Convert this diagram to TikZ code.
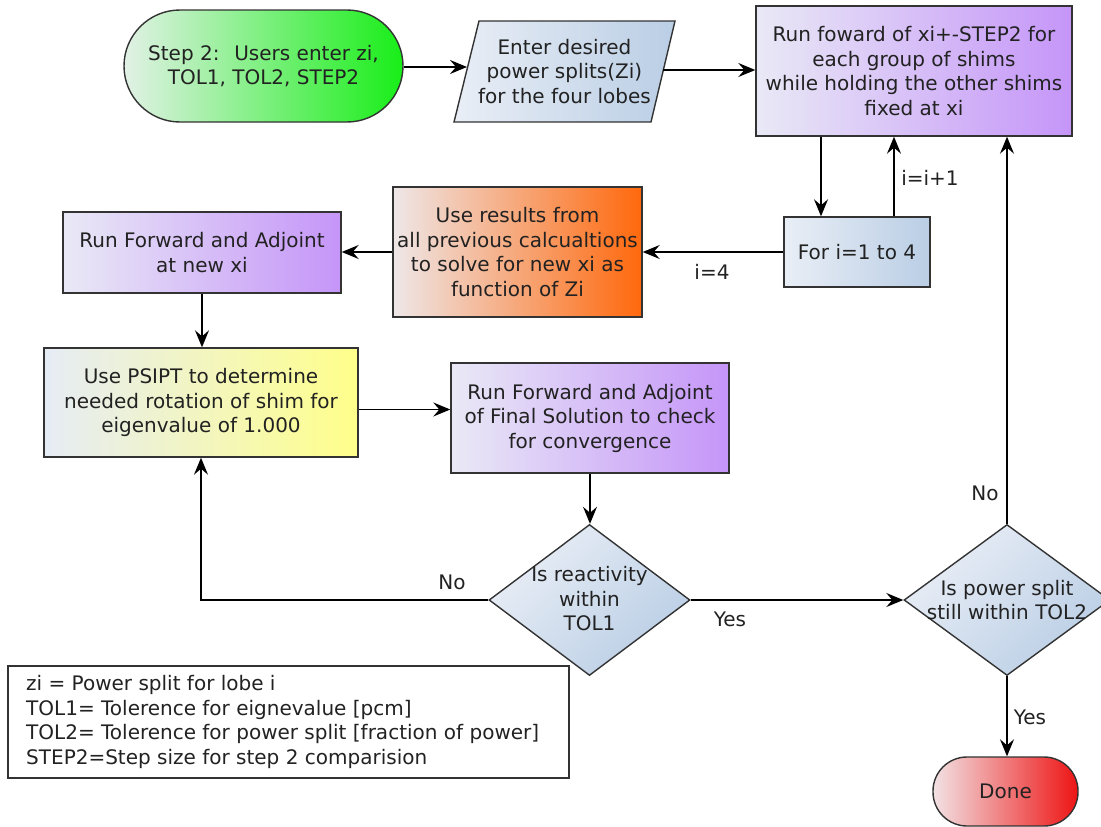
\documentclass[tikz,border=0pt]{standalone}
\usepackage{fontspec}
\setmainfont{DejaVu Sans}
\usetikzlibrary{shapes.geometric,arrows.meta}

\definecolor{inkc}{HTML}{222222}
\definecolor{edgec}{HTML}{333333}
\definecolor{greenL}{HTML}{E2F1E6}
\definecolor{greenR}{HTML}{18EE18}
\definecolor{purpL}{HTML}{E9E9F6}
\definecolor{purpR}{HTML}{C595F8}
\definecolor{blueL}{HTML}{E9EEF6}
\definecolor{blueR}{HTML}{BACEE5}
\definecolor{orangeL}{HTML}{EEE7E8}
\definecolor{orangeR}{HTML}{FF680C}
\definecolor{yellL}{HTML}{E6ECF5}
\definecolor{yellR}{HTML}{FFFF8A}
\definecolor{redL}{HTML}{F2E2E4}
\definecolor{redR}{HTML}{EE1414}

\tikzset{
  box/.style={draw=edgec, line width=1.4pt, align=center, inner sep=0pt, text=inkc},
  purplebox/.style={box, left color=purpL, right color=purpR},
  bluebox/.style={box, left color=blueL, right color=blueR},
  decision/.style={diamond, draw=edgec, line width=1.4pt, inner sep=0pt,
    top color=blueL, bottom color=blueR, shading angle=45},
  plaintext/.style={align=center, text=inkc, inner sep=0pt},
  arr/.style={-{Stealth[length=17pt,width=14pt,inset=6pt]}, line width=1.4pt, draw=black},
  lbl/.style={text=inkc, inner sep=0pt}
}

\begin{document}
\begin{tikzpicture}[x=1pt, y=-1pt, font=\fontsize{20}{24.5}\selectfont]
  \fill[white] (0,0) rectangle (1101,827);
  \useasboundingbox (0,0) rectangle (1101,827);

  % start terminal
  \node[box, left color=greenL, right color=greenR, rounded corners=56pt,
        minimum width=279pt, minimum height=112pt] (start) at (263.5,66)
        {Step 2:~ Users enter zi,\\TOL1, TOL2, STEP2};

  % input parallelogram
  \path[draw=edgec, line width=1.4pt, left color=blueL, right color=blueR]
    (454,122) -- (479,21) -- (675,21) -- (651,122) -- cycle;
  \node[plaintext] (par) at (564.5,71.5) {Enter desired\\power splits(Zi)\\for the four lobes};
  \coordinate (parin) at (467,67);
  \coordinate (parout) at (663,70);

  % process boxes
  \node[purplebox, minimum width=316pt, minimum height=130pt] (top) at (914,71)
    {Run foward of xi+-STEP2 for\\each group of shims\\while holding the other shims\\fixed at xi};
  \node[bluebox, minimum width=146pt, minimum height=70pt] (loop) at (857,252) {For i=1 to 4};
  \node[box, left color=orangeL, right color=orangeR, minimum width=249pt, minimum height=130pt]
    (solve) at (517.5,252) {Use results from\\all previous calcualtions\\to solve for new xi as\\function of Zi};
  \node[purplebox, minimum width=278pt, minimum height=81pt] (newxi) at (202,252.5)
    {Run Forward and Adjoint\\at new xi};
  \node[box, left color=yellL, right color=yellR, minimum width=314pt, minimum height=109pt]
    (psipt) at (201,402.5) {Use PSIPT to determine\\needed rotation of shim for\\eigenvalue of 1.000};
  \node[purplebox, minimum width=278pt, minimum height=110pt] (final) at (590,418)
    {Run Forward and Adjoint\\of Final Solution to check\\for convergence};

  % decisions
  \node[decision, minimum width=201pt, minimum height=151pt] (d1) at (589.5,600) {};
  \node[plaintext] (d1t) at (589.5,599) {Is reactivity\\within\\TOL1};
  \node[decision, minimum width=206pt, minimum height=151pt] (d2) at (1007,600) {};
  \node[plaintext] (d2t) at (1007,600) {Is power split\\still within TOL2};

  % end terminal
  \node[box, left color=redL, right color=redR, rounded corners=34pt,
        minimum width=145pt, minimum height=69pt] (done) at (1005.5,791.5) {Done};

  % legend
  \node[draw=edgec, line width=1.4pt, minimum width=561pt, minimum height=112pt, inner sep=0pt]
    (legend) at (288.5,722) {};
  \node[lbl, align=left, anchor=west] (legendtxt) at (26,722)
    {zi = Power split for lobe i\\TOL1= Tolerence for eignevalue [pcm]\\TOL2= Tolerence for power split [fraction of power]\\STEP2=Step size for step 2 comparision};

  % connectors
  \draw[arr] (start.east |- parin) -- (parin);
  \draw[arr] (parout) -- (parout -| top.west);
  \draw[arr] ([xshift=-36pt]loop.north |- top.south) -- ([xshift=-36pt]loop.north);
  \draw[arr] ([xshift=37pt]loop.north) -- ([xshift=37pt]loop.north |- top.south);
  \draw[arr] (loop.west) -- (loop.west -| solve.east);
  \draw[arr] (solve.west) -- (solve.west -| newxi.east);
  \draw[arr] (newxi.south) -- (newxi.south |- psipt.north);
  \draw[arr] ([yshift=-7pt]psipt.east) -- ([yshift=-7pt]psipt.east -| final.west);
  \draw[arr] (final.south) -- (final.south |- d1.north);
  \draw[arr] (d1.west) -| (psipt.south);
  \draw[arr] (d1.east) -- (d2.west);
  \draw[arr] (d2.north) -- (d2.north |- top.south);
  \draw[arr] (d2.south) -- (d2.south |- done.north);

  % branch labels
  \node[lbl] (lnext) at (930,178) {i=i+1};
  \node[lbl] (lfour) at (712,272) {i=4};
  \node[lbl] (lno1) at (452,582) {No};
  \node[lbl] (lyes1) at (730,619) {Yes};
  \node[lbl] (lno2) at (985,493) {No};
  \node[lbl] (lyes2) at (1030,717) {Yes};
\end{tikzpicture}
\end{document}
